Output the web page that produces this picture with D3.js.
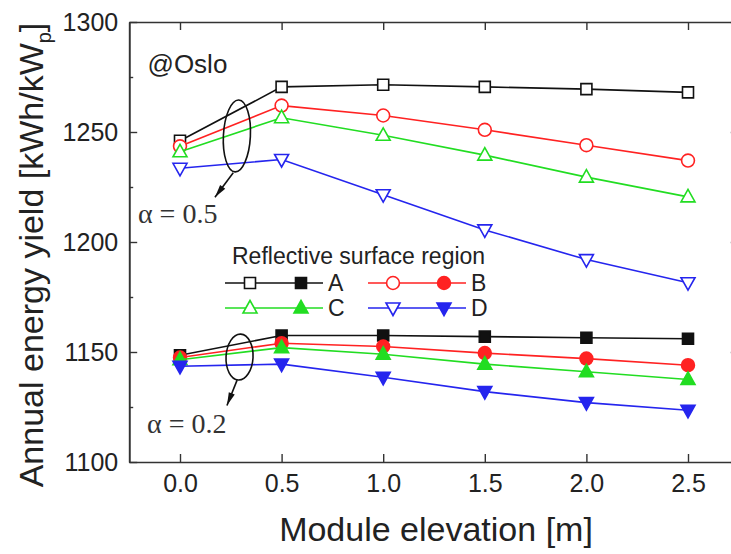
<!DOCTYPE html>
<html><head><meta charset="utf-8">
<script src="https://cdn.jsdelivr.net/npm/d3@7"></script>
<style>
html,body{margin:0;padding:0;background:#fff;}
svg{display:block;}
text{font-family:"Liberation Sans",Arial,sans-serif;fill:#222;}
text.serif{font-family:"Liberation Serif","Times New Roman",serif;fill:#333;}
</style></head>
<body><svg id="c" width="731" height="554"></svg>
<script>
// ---- data ----
const elevation = [0, 0.5, 1.0, 1.5, 2.0, 2.5];
const regions = ["A", "B", "C", "D"];
const xTicks = [0, 0.5, 1.0, 1.5, 2.0, 2.5];
const yTicks = [1100, 1150, 1200, 1250, 1300];
const yMinorTicks = [1125, 1175, 1225, 1275];
// alpha = 0.5 (open markers)
const alpha05A = [1246, 1270.5, 1271.5, 1270.5, 1269.5, 1268];
const alpha05B = [1243.5, 1262, 1257.5, 1251, 1244, 1237];
const alpha05C = [1241, 1256.5, 1248.5, 1239.5, 1229.5, 1220.5];
const alpha05D = [1233.5, 1237.5, 1221.5, 1205.5, 1192, 1181.5];
// alpha = 0.2 (filled markers)
const alpha02A = [1148.5, 1157.5, 1157.5, 1157, 1156.5, 1156];
const alpha02B = [1147.5, 1154, 1152.5, 1149.5, 1147, 1144];
const alpha02C = [1146.5, 1152, 1149, 1144.5, 1141, 1137.5];
const alpha02D = [1143.5, 1144.5, 1138.5, 1132, 1127, 1123.5];

const colors = {A: "#111111", B: "#ff2222", C: "#22dd22", D: "#2525ee"};
const shapes = {A: "square", B: "circle", C: "up", D: "down"};

const upper = {A: alpha05A, B: alpha05B, C: alpha05C, D: alpha05D};
const lower = {A: alpha02A, B: alpha02B, C: alpha02C, D: alpha02D};

// ---- layout ----
const svg = d3.select("#c");
const x = d3.scaleLinear().domain([-0.25, 2.75]).range([129.2, 738.8]);
const y = d3.scaleLinear().domain([1100, 1300]).range([462, 22]);

function markerPath(shape) {
  if (shape === "square") return "M-5.5,-5.5H5.5V5.5H-5.5Z";
  if (shape === "circle") return d3.symbol(d3.symbolCircle, 130)();
  if (shape === "up") return "M0,-7.5L7,5L-7,5Z";
  return "M0,7.5L7,-5L-7,-5Z";
}
function drawMarker(g, shape, color, filled) {
  g.append("path").attr("d", markerPath(shape))
    .attr("fill", filled ? color : "#fff")
    .attr("stroke", color).attr("stroke-width", 1.6);
}

const line = d3.line().x((d, i) => x(elevation[i])).y(d => y(d));

function drawSeries(set, filled) {
  regions.forEach(r => {
    const vals = set[r];
    svg.append("path").datum(vals).attr("d", line)
      .attr("fill", "none").attr("stroke", colors[r]).attr("stroke-width", 1.6);
    vals.forEach((v, i) => {
      const g = svg.append("g").attr("transform", `translate(${x(elevation[i])},${y(v)})`);
      drawMarker(g, shapes[r], colors[r], filled);
    });
  });
}

// axes
const axisColor = "#333";
svg.append("g").attr("transform", `translate(${x(-0.25)},0)`)
  .call(d3.axisLeft(y).tickValues(yTicks).tickSizeInner(-8).tickSizeOuter(0).tickPadding(11).tickFormat(d3.format("d")));
svg.append("g").attr("transform", `translate(${x(-0.25)},0)`)
  .call(d3.axisLeft(y).tickValues(yMinorTicks).tickSizeInner(-4).tickSizeOuter(0).tickFormat(""));
svg.append("g").attr("transform", `translate(0,${y(1100)})`)
  .call(d3.axisBottom(x).tickValues(xTicks).tickSizeInner(-8).tickSizeOuter(0).tickPadding(12).tickFormat(d3.format(".1f")));
svg.append("g").attr("transform", `translate(0,${y(1300)})`)
  .call(d3.axisTop(x).tickValues(xTicks).tickSizeInner(-8).tickSizeOuter(0).tickFormat(""));
svg.append("g").attr("transform", `translate(${x(2.75)},0)`)
  .call(d3.axisRight(y).tickValues(yTicks).tickSizeInner(-8).tickSizeOuter(0).tickFormat(""));
svg.append("g").attr("transform", `translate(${x(2.75)},0)`)
  .call(d3.axisRight(y).tickValues(yMinorTicks).tickSizeInner(-4).tickSizeOuter(0).tickFormat(""));
svg.selectAll(".domain").attr("stroke", axisColor).attr("stroke-width", 1.6);
svg.selectAll(".tick line").attr("stroke", axisColor).attr("stroke-width", 1.4);
svg.selectAll(".tick text").attr("font-size", 25);

// axis titles
svg.append("text").attr("x", 436).attr("y", 541).attr("text-anchor", "middle")
  .attr("font-size", 34).text("Module elevation [m]");
const yt = svg.append("text").attr("transform", "translate(43,255) rotate(-90)")
  .attr("text-anchor", "middle").attr("font-size", 34);
yt.append("tspan").text("Annual energy yield [kWh/kW");
yt.append("tspan").attr("font-size", 20).attr("dy", 8).text("p");
yt.append("tspan").attr("dy", -8).text("]");

// series
drawSeries(upper, false);
drawSeries(lower, true);

// annotations
svg.append("text").attr("x", x(-0.16)).attr("y", y(1277)).attr("font-size", 26).text("@Oslo");

const ellipses = [
  {cx: 0.28, cy: 1248.2, rx: 13.5, ry: 36, x1: 0.262, y1: 1231.5, x2: 0.172, y2: 1220.3,
   lx: -0.207, ly: 1208.6, label: "α = 0.5"},
  {cx: 0.293, cy: 1147.7, rx: 13.5, ry: 23, x1: 0.281, y1: 1137.2, x2: 0.231, y2: 1125.7,
   lx: -0.162, ly: 1113.2, label: "α = 0.2"}
];
ellipses.forEach(e => {
  svg.append("ellipse").attr("cx", x(e.cx)).attr("cy", y(e.cy)).attr("rx", e.rx).attr("ry", e.ry)
    .attr("fill", "none").attr("stroke", "#111").attr("stroke-width", 1.6)
    .attr("transform", `rotate(3,${x(e.cx)},${y(e.cy)})`);
  const X1 = x(e.x1), Y1 = y(e.y1), X2 = x(e.x2), Y2 = y(e.y2);
  svg.append("line").attr("x1", X1).attr("y1", Y1).attr("x2", X2).attr("y2", Y2)
    .attr("stroke", "#111").attr("stroke-width", 1.6);
  const ang = Math.atan2(Y2 - Y1, X2 - X1);
  const L = 13, W = 3.2;
  const bx = X2 - L * Math.cos(ang), by = Y2 - L * Math.sin(ang);
  const px = -Math.sin(ang) * W, py = Math.cos(ang) * W;
  svg.append("path").attr("d", `M${X2},${Y2}L${bx + px},${by + py}L${bx - px},${by - py}Z`).attr("fill", "#111");
  svg.append("text").attr("class", "serif").attr("x", x(e.lx)).attr("y", y(e.ly)).attr("font-size", 28)
    .text(e.label);
});

// legend
svg.append("text").attr("x", 232).attr("y", 264).attr("font-size", 23).text("Reflective surface region");
const legendPos = {A: [225, 283], B: [368, 283], C: [225, 308], D: [368, 308]};
regions.forEach(r => {
  const [lx, ly] = legendPos[r];
  const g = svg.append("g").attr("transform", `translate(${lx},${ly})`);
  g.append("line").attr("x1", 0).attr("x2", 98).attr("y1", 0).attr("y2", 0)
    .attr("stroke", colors[r]).attr("stroke-width", 1.5);
  drawMarker(g.append("g").attr("transform", "translate(25,0)"), shapes[r], colors[r], false);
  drawMarker(g.append("g").attr("transform", "translate(76,0)"), shapes[r], colors[r], true);
  g.append("text").attr("x", 103).attr("y", 8).attr("font-size", 23).text(r);
});
</script></body></html>
